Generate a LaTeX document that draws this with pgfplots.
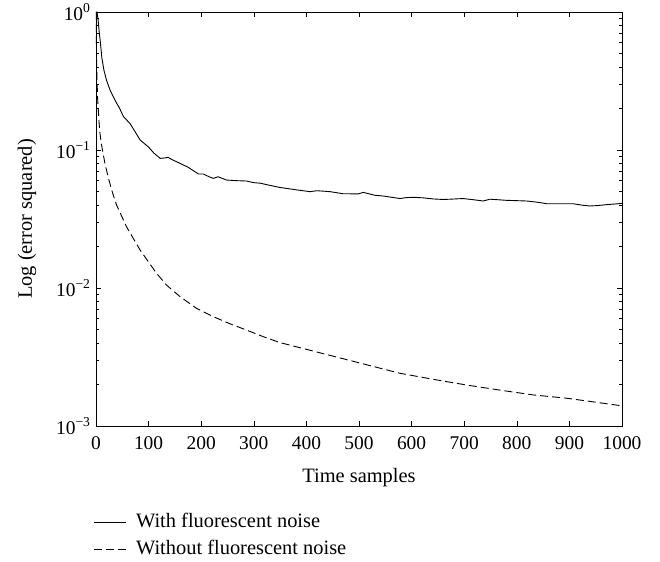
\documentclass[border=0pt]{standalone}
\usepackage{fontspec}
\setmainfont{Liberation Serif}
\usepackage{pgfplots}
\pgfplotsset{compat=1.18}

\pgfplotstableread{
x y
0 1.0
2 1.0
4 0.88
6 0.72
8 0.62
11 0.47
15 0.38
20 0.32
27 0.27
36 0.23
45 0.20
52 0.175
65 0.155
84 0.118
100 0.105
110 0.095
122 0.087
130 0.0875
137 0.0885
145 0.085
160 0.080
175 0.075
195 0.067
204 0.067
215 0.064
223 0.0623
232 0.064
248 0.0606
265 0.060
286 0.0596
300 0.058
312 0.0575
330 0.0555
350 0.0535
380 0.0515
407 0.0499
420 0.0507
445 0.0499
470 0.0482
499 0.0481
508 0.0493
530 0.047
546 0.0464
578 0.0445
590 0.0452
606 0.0454
622 0.045
641 0.0442
660 0.0438
673 0.044
698 0.0445
720 0.0435
736 0.0427
749 0.044
780 0.0432
819 0.0427
840 0.0418
857 0.0408
880 0.0408
907 0.0408
925 0.0398
939 0.0393
955 0.0396
971 0.0402
1000 0.041
}\withnoise

\pgfplotstableread{
x y
0 1.0
1 0.5
2 0.32
3 0.24
4.4 0.195
6 0.155
7.6 0.132
10 0.112
14 0.092
17 0.080
23 0.064
30 0.051
39 0.040
58 0.0278
84 0.0188
115 0.0128
134 0.0105
160 0.00865
191 0.00713
223 0.0062
255 0.0055
286 0.00496
318 0.00444
350 0.00402
578 0.00241
641 0.00218
705 0.00198
768 0.00182
831 0.00168
895 0.00159
1000 0.00140
}\withoutnoise

\begin{document}
\begin{tikzpicture}
\useasboundingbox (-96bp,-136bp) rectangle (564bp,426bp);
\begin{axis}[
  at={(0,0)}, anchor=south west,
  scale only axis,
  width=526bp, height=414bp,
  ymode=log,
  xmin=0, xmax=1000,
  ymin=1e-3, ymax=1,
  xtick={0,100,...,1000},
  ytick={1e-3,1e-2,1e-1,1},
  yticklabels={10\textsuperscript{−3},10\textsuperscript{−2},10\textsuperscript{−1},10\textsuperscript{0}},
  tick align=inside,
  major tick length=5bp,
  minor tick length=3bp,
  axis line style={line width=0.8bp},
  every tick/.style={black, line width=0.6bp},
  font=\fontsize{20.5}{24}\selectfont,
  tick label style={font=\fontsize{19.5}{23}\selectfont},
  xticklabel style={anchor=base, yshift=-23bp},
  yticklabel style={anchor=east, xshift=-2bp},
  /pgf/number format/assume math mode=true,
  /pgf/number format/1000 sep={},
  xlabel={Time samples},
  xlabel style={at={(axis description cs:0.5,-0.1353)}, anchor=base},
  ylabel={Log (error squared)},
  ylabel style={at={(axis description cs:-0.1217,0.5)}, anchor=base},
  legend style={
    at={(axis description cs:-0.0057,-0.210)}, anchor=north west,
    draw=none, fill=none, inner sep=0pt,
    nodes={inner sep=0pt, text height=14bp, text depth=4bp},
    row sep=9bp, column sep=10bp,
    font=\fontsize{20.5}{24}\selectfont,
  },
  legend cell align=left,
  legend image code/.code={\draw[#1] (0bp,0bp) -- (32bp,0bp);},
]
\addplot[black, line width=0.9bp] table[x=x, y=y] {\withnoise};
\addlegendentry{With fluorescent noise}
\addplot[black, line width=0.9bp, dash pattern=on 8bp off 4bp] table[x=x, y=y] {\withoutnoise};
\addlegendentry{Without fluorescent noise}
\end{axis}
\end{tikzpicture}
\end{document}
